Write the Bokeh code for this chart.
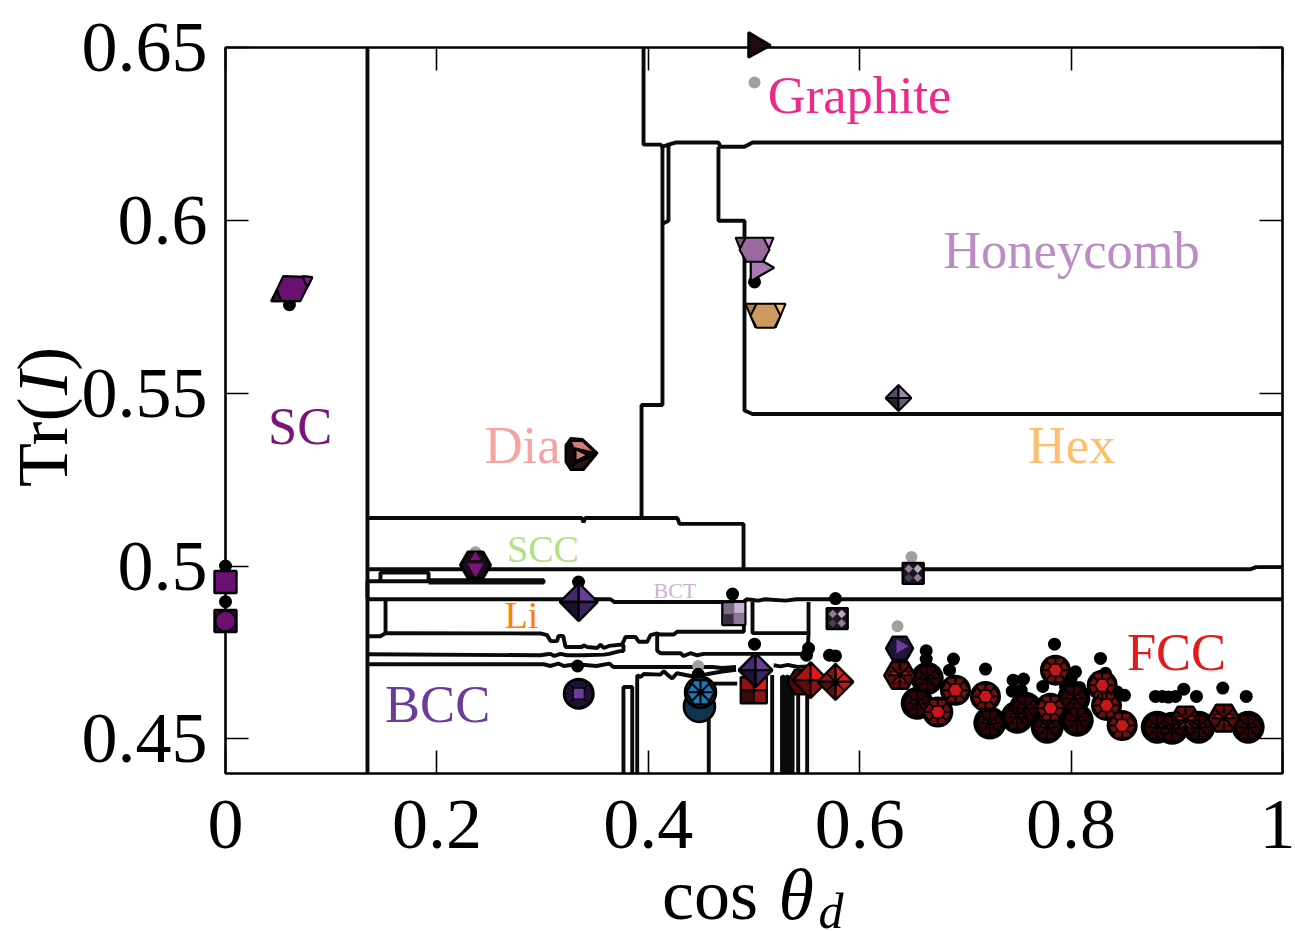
import math
from bokeh.plotting import figure
from bokeh.models import Range1d, FixedTicker, LinearAxis, ColumnDataSource, CustomJSTickFormatter
from bokeh.core.properties import value
from bokeh.embed import file_html
from bokeh.resources import INLINE

SERIF = "Liberation Serif"

x_ticks = [0, 0.2, 0.4, 0.6, 0.8, 1]
x_tick_labels = ["0", "0.2", "0.4", "0.6", "0.8", "1"]
y_ticks = [0.45, 0.5, 0.55, 0.6, 0.65]
y_tick_labels = ["0.45", "0.5", "0.55", "0.6", "0.65"]

# ---- phase boundaries (cos theta_d, Tr(I))
b_left_x = [.1343, .1343]
b_left_y = [.65, .44]
b_top_x = [.3955, .3955, .4115, .4134, .4191, .4257, .4664, .4683, .4910, .4986, 1]
b_top_y = [.65, .6219, .6219, .6213, .6219, .6225, .6225, .6213, .6213, .6225, .6225]
b_stemA_x = [.4134, .4134, .3936, .3936]
b_stemA_y = [.6219, .5466, .5466, .5139]
b_stemB_x = [.4191, .4191, .4134]
b_stemB_y = [.6219, .5999, .5990]
b_hex_x = [.4664, .4664, .4910, .4910, .4986, 1]
b_hex_y = [.6213, .5999, .5999, .5450, .5440, .5440]
b_scc_x = [.1343, .3370, .3387, .3404, .4276, .4295, .4901, .4901]
b_scc_y = [.5139, .5139, .5127, .5139, .5139, .5122, .5122, .4991]
b_h1_x = [.1343, .97, .975, 1]
b_h1_y = [.4991, .4991, .4997, .4997]
b_box_x = [.1466, .1466, .1921, .1921]
b_box_y = [.4956, .4981, .4981, .4956]
b_h2_x = [.1343, .1343, .3009]
b_h2_y = [.4907, .4956, .4956]
b_h2b_x = [.1921, .3009, .3009, .1921]
b_h2b_y = [.4952, .4952, .4959, .4959]
b_h3_x = [.1343, .3642, .3680, .4901, .4930, .5040, .5100, .5300, .5400, .5500, 1]
b_h3_y = [.4904, .4904, .4896, .4896, .4904, .4900, .4904, .4900, .4904, .4904, .4904]
b_li_x = [.1514, .1514]
b_li_y = [.4904, .4806]
b_w1_x = [.1343, .1466, .1514, .2980, .3043, .3075, .3138, .3150, .3195, .3217, .3375, .3387, .3422, .3517,
          .3548, .3579, .3627, .3753, .3784, .3879, .3911, .3989, .4021, .4084, .4115, .4241, .4273, .4904, .4904]
b_w1_y = [.4797, .4797, .4806, .4805, .4800, .4783, .4783, .4798, .4798, .4766, .4766, .4771, .4766, .4763,
          .4773, .4763, .4769, .4773, .4795, .4795, .4781, .4781, .4800, .4805, .4802, .4802, .4810, .4810, .4896]
b_box2_x = [.4986, .4986, .5516, .5516]
b_box2_y = [.4896, .4806, .4806, .4896]
b_box2d_x = [.5516, .5510]
b_box2d_y = [.4806, .4765]
b_w2_x = [.1343, .2980, .3043, .3075, .3110, .3170, .3230, .3390, .3580, .3630, .3730, .3765, .3765]
b_w2_y = [.4745, .4742, .4745, .4746, .4740, .4746, .4742, .4742, .4744, .4746, .4754, .4754, .4773]
b_w3_x = [.4084, .4084, .4115, .4305, .4333, .4399, .4463, .4525, .5503]
b_w3_y = [.4805, .4755, .4748, .4748, .4740, .4748, .4742, .4746, .4746]
b_w4_x = [.1343, .3009, .3075, .3150, .3200, .3320, .3510, .3630, .3670, .4604, .4699, .4830]
b_w4_y = [.4716, .4716, .4711, .4718, .4711, .4716, .4711, .4718, .4708, .4708, .4705, .4708]
b_w5_x = [.5186, .5250, .5320, .5412, .5510]
b_w5_y = [.4713, .4710, .4714, .4708, .4710]
b_u_x = [.3765, .3765, .3848, .3848]
b_u_y = [.44, .4650, .4650, .44]
b_w6_x = [.3895, .3895, .3926, .3958, .4115, .4147, .4180, .4226, .4270, .4400, .4500, .4604, .4700, .4830]
b_w6_y = [.44, .4684, .4679, .4688, .4686, .4696, .4686, .4675, .4690, .4682, .4684, .4690, .4695, .4700]
b_w7_x = [.4604, .4841]
b_w7_y = [.4660, .4660]
b_v1_x = [.4572, .4572]
b_v1_y = [.44, .4650]
b_v2_x = [.5172, .5172]
b_v2_y = [.44, .4685]
b_v3_x = [.5265, .5265, .5285, .5285, .5305, .5305, .5325, .5325, .5345, .5345, .5365, .5365]
b_v3_y = [.44, .4680, .4680, .44, .44, .4680, .4680, .44, .44, .4680, .4680, .44]
b_v4_x = [.5418, .5418]
b_v4_y = [.44, .4665]
b_v5_x = [.5503, .5503]
b_v5_y = [.44, .4690]

bx = [b_left_x, b_top_x, b_stemA_x, b_stemB_x, b_hex_x, b_scc_x, b_h1_x, b_box_x, b_h2_x, b_h2b_x, b_h3_x, b_li_x,
      b_w1_x, b_box2_x, b_box2d_x, b_w2_x, b_w3_x, b_w4_x, b_w5_x, b_u_x, b_w6_x, b_w7_x, b_v1_x, b_v2_x, b_v3_x,
      b_v4_x, b_v5_x]
by = [b_left_y, b_top_y, b_stemA_y, b_stemB_y, b_hex_y, b_scc_y, b_h1_y, b_box_y, b_h2_y, b_h2b_y, b_h3_y, b_li_y,
      b_w1_y, b_box2_y, b_box2d_y, b_w2_y, b_w3_y, b_w4_y, b_w5_y, b_u_y, b_w6_y, b_w7_y, b_v1_y, b_v2_y, b_v3_y,
      b_v4_y, b_v5_y]

# ---- reference dots
black_x = [.0605, 0, 0, .5005, .3340, .3331, .4797, .5771, .5005, .4472, .5516, .5497, .5714, .5771,
           .6629, .6629, .6887, .6850, .7190, .7452, .7443, .7550, .7528, .7843, .8042, .8001, .7732, .7947,
           .8079, .8278, .8325, .8436, .8505, .8798, .8862, .8921, .8988, .9066, .9186, .9435, .9657]
black_y = [.5756, .5000, .4897, .5822, .4954, .4711, .4919, .4906, .4774, .4687, .4762, .4742, .4742, .4740,
           .4755, .4731, .4731, .4699, .4702, .4670, .4638, .4673, .4641, .4774, .4694, .4675, .4652, .4652,
           .4649, .4733, .4690, .4636, .4626, .4623, .4623, .4621, .4623, .4644, .4623, .4647, .4623]
gray_x = [.5005, .2365, .6490, .6358, .4472]
gray_y = [.6399, .5040, .5026, .4826, .4711]

# ---- structures
fcc_wheel_x = [.6379, .9082, .9445]
fcc_wheel_y = [.4684, .4554, .4560]
fcc_penta_x = [.6739, .7190, .7805, .7852, .8294, .8335, .8483, .6906]
fcc_penta_y = [.4578, .4623, .4589, .4699, .4655, .4597, .4539, .4641]
fcc_dark_x = [.6639, .6544, .7231, .7490, .7569, .7774, .8026, .8058, .8815, .8956, .9208, .9675]
fcc_dark_y = [.4675, .4603, .4546, .4563, .4589, .4534, .4618, .4554, .4534, .4531, .4534, .4534]
red_diamond_x = [.5535, .5771]
red_diamond_y = [.4670, .4665]
red_square_x = [.4998]
red_square_y = [.4641]
blue_x = [.4484, .4494]
blue_y = [.4594, .4635]
purple_diamond_x = [.3342, .5014]
purple_diamond_y = [.4896, .4699]
octa_x = [.3342]
octa_y = [.4631]
scc_x = [.2365]
scc_y = [.5003]
bct_x = [.4809]
bct_y = [.4863]
hatch_x = [.5787, .6506]
hatch_y = [.4848, .4979]
purple_hex_x = [.6377]
purple_hex_y = [.4762]
hex_diamond_x = .6367
hex_diamond_y = .5486
tan_x = .5109
tan_y = .5724
honey_x = .5005
honey_y = .5915
honey_tri_x = [.5043]
honey_tri_y = [.5863]
graphite_x = .5043
graphite_y = .6506
dia_x = .3340
dia_y = .5324
sc_x = .0622
sc_y = .5801
sc_square_x = [0.0]
sc_square_y = [.4954]
sc_oct_x = [0.0]
sc_oct_y = [.4841]

# ---- region labels
label_text = ["SC", "Honeycomb", "Dia", "Hex", "SCC", "BCT", "Li", "BCC", "FCC", "Graphite"]
label_x = [.0402, .6790, .2452, .7590, .2664, .4049, .2640, .1510, .8528, .5130]
label_y = [.5404, .5913, .5351, .5351, .5050, .4930, .4858, .4601, .4752, .6363]
label_size = ["52.5px", "52.5px", "52.5px", "52.5px", "38px", "22px", "38px", "52.5px", "52.5px", "52.5px"]
label_color = ["#7b1478", "#bd8cc6", "#f6a3a3", "#fdbf6f", "#b2df8a", "#cab2d6", "#ff7f00", "#6a3d9a", "#e31a1c", "#ec2a8c"]

p = figure(width=1295, height=931, output_backend="svg", toolbar_location=None,
           x_range=Range1d(0, 1), y_range=Range1d(0.44, 0.65),
           min_border_left=225, min_border_right=13, min_border_top=47, min_border_bottom=158)
p.grid.visible = False
p.outline_line_color = "black"
p.outline_line_width = 2.2
p.background_fill_color = "white"

def style_axis(a, ticks, overrides=None):
    a.ticker = FixedTicker(ticks=ticks)
    a.major_tick_in = 23
    a.major_tick_out = 0
    a.minor_tick_line_color = None
    a.major_tick_line_color = "black"
    a.major_tick_line_width = 1.6
    a.axis_line_color = "black"
    a.axis_line_width = 2
    if overrides:
        a.major_label_overrides = overrides
        a.major_label_text_font = SERIF
        a.major_label_text_font_size = "72px"
        a.major_label_text_color = "black"
    else:
        a.formatter = CustomJSTickFormatter(code="return ''")
        a.major_label_standoff = 0

style_axis(p.xaxis[0], x_ticks, dict(zip(x_ticks, x_tick_labels)))
style_axis(p.yaxis[0], y_ticks, dict(zip(y_ticks, y_tick_labels)))
p.xaxis[0].major_label_standoff = 27
p.yaxis[0].major_label_standoff = 18
top = LinearAxis(); style_axis(top, x_ticks); p.add_layout(top, "above")
right = LinearAxis(); style_axis(right, y_ticks); p.add_layout(right, "right")

p.multi_line(bx, by, line_color="#0a0a0a", line_width=3.9)

PX, PY = 1 / 1057, 1 / 3453
def mark(xs, ys, marker, size, fill, line="black", lw=2.2, angle=0.0, dx=0, dy=0):
    X = [v + dx * PX for v in xs]
    Y = [v + dy * PY for v in ys]
    return p.scatter(X, Y, marker=marker, size=size, fill_color=fill, line_color=line, line_width=lw,
                     angle=angle, level="overlay")

def shape(cx, cy, facets, lw=2.0):
    """Facets of a polyhedron icon around a data point; offsets are in screen pixels."""
    xs = [[cx + a * PX for a, b in f] for _, f in facets]
    ys = [[cy + b * PY for a, b in f] for _, f in facets]
    cols = [c for c, _ in facets]
    p.patches(xs, ys, fill_color=cols, line_color="black", line_width=lw, level="overlay")

def diamond(cx, cy, r, cols, lw=2.2):
    shape(cx, cy, [(cols[0], [(0, 0), (-r, 0), (0, r)]), (cols[1], [(0, 0), (r, 0), (0, r)]),
                   (cols[2], [(0, 0), (-r, 0), (0, -r)]), (cols[3], [(0, 0), (r, 0), (0, -r)])], lw)

# dots
mark(gray_x, gray_y, "circle", 12, "#a0a0a0", line=None)
mark(black_x, black_y, "circle", 13, "black", line=None)

# FCC family
mark(fcc_dark_x, fcc_dark_y, "circle", 33, "black", line=None)
mark(fcc_penta_x, fcc_penta_y, "circle", 31, "black", line=None)
mark(fcc_wheel_x, fcc_wheel_y, "hex", 31, "#5a0c0e", lw=2.5)
mark(fcc_dark_x, fcc_dark_y, "hex", 27, "#300406", lw=1.5)
mark(fcc_dark_x, fcc_dark_y, "star", 15, "#b01417", line="black", lw=1)
mark(fcc_dark_x, fcc_dark_y, "asterisk", 22, None, lw=1.8)
mark(fcc_penta_x, fcc_penta_y, "hex", 28, "#720d10", lw=1.5)
mark(fcc_penta_x, fcc_penta_y, "asterisk", 27, None, lw=2)
mark(fcc_penta_x, fcc_penta_y, "hex", 14, "#c8161a", lw=1.5)
mark(fcc_wheel_x, fcc_wheel_y, "star", 22, "#c8161a", line="black", lw=1)
mark(fcc_wheel_x, fcc_wheel_y, "asterisk", 24, None, lw=2)

# red diamonds near 0.55-0.58
mark(red_diamond_x[:1], red_diamond_y[:1], "hex", 28, "#4a0a0c", dx=-9, dy=-2)
diamond(red_diamond_x[0], red_diamond_y[0], 18, ["#a81416", "#e01a1c", "#5a0c0e", "#8a1012"], 2.2)
diamond(red_diamond_x[1], red_diamond_y[1], 18, ["#8a1012", "#e01a1c", "#5a0c0e", "#c21618"], 2.2)
mark(red_diamond_x[1:], red_diamond_y[1:], "asterisk", 22, None, lw=2)

# red square with purple diamond above it
mark(red_square_x, red_square_y, "square", 26, "#8c1214", lw=2.4)
mark(red_square_x, red_square_y, "square", 12, "#e31a1c", line=None, dx=6, dy=6)
mark(red_square_x, red_square_y, "square", 12, "#3a0a0b", line=None, dx=-6, dy=-6)
mark(red_square_x, red_square_y, "cross", 26, None, lw=2)

# blue
mark(blue_x, blue_y, "circle", 31, "#10344e", lw=2.6)
mark(blue_x[1:], blue_y[1:], "hex", 28, "#1f78b4", lw=2.2)
mark(blue_x[1:], blue_y[1:], "asterisk", 24, None, lw=2)

# purple diamonds
PURP = ["#46296e", "#6a3d9a", "#1e1030", "#3a2560"]
diamond(purple_diamond_x[0], purple_diamond_y[0], 19, PURP, 2.4)
diamond(purple_diamond_x[1], purple_diamond_y[1], 17, PURP, 2.4)

# octahedral purple
mark(octa_x, octa_y, "circle", 29, "#1e1232", lw=3)
mark(octa_x, octa_y, "x", 22, None, lw=1.5)
mark(octa_x, octa_y, "square", 11, "#6a3d9a", lw=1.2)

# SCC hex
mark(scc_x, scc_y, "hex", 30, "#1a0a1c", lw=3)
mark(scc_x, scc_y, "inverted_triangle", 16, "#7b1478", line=None, dy=-3)
mark(scc_x, scc_y, "triangle", 10, "#7b1478", line=None, dy=8)

# BCT
mark(bct_x, bct_y, "square", 23, "#7d6a86", lw=2.4)
mark(bct_x, bct_y, "square", 10, "#cbb3d8", line=None, dx=5.5, dy=5.5)
mark(bct_x, bct_y, "square", 10, "#3b2c40", line=None, dx=-5.5, dy=-5.5)
mark(bct_x, bct_y, "square", 10, "#8d7a92", line=None, dx=5.5, dy=-5.5)

# hatch
Q = math.pi / 4
mark(hatch_x, hatch_y, "square", 21, "#1c151e", lw=2.4)
mark(hatch_x, hatch_y, "square", 6, "#b9a8c4", line=None, angle=Q, dx=4.5, dy=4.5)
mark(hatch_x, hatch_y, "square", 6, "#8f7e98", line=None, angle=Q, dx=-4.5, dy=4.5)
mark(hatch_x, hatch_y, "square", 6, "#8f7e98", line=None, angle=Q, dx=4.5, dy=-4.5)
mark(hatch_x, hatch_y, "square", 6, "#4a3d52", line=None, angle=Q, dx=-4.5, dy=-4.5)

# purple hex / small diamond
mark(purple_hex_x, purple_hex_y, "hex", 27, "#1f1536", lw=2.5)
mark(purple_hex_x, purple_hex_y, "triangle", 14, "#6a3d9a", line=None, angle=-math.pi / 2, dx=1, dy=2)
diamond(hex_diamond_x, hex_diamond_y, 13, ["#5a4a66", "#9a88ac", "#2c2034", "#6a5a76"], 2.0)

# honeycomb / tan
def cup(cx, cy, hw, hb, cols):
    shape(cx, cy, [(cols[0], [(-hw, 12), (-9, 12), (-hb - 1, -12)]),
                   (cols[1], [(hw, 12), (9, 12), (hb + 1, -12)]),
                   (cols[2], [(-9, 12), (9, 12), (15, 0), (hb, -12), (-hb, -12), (-15, 0)])], 2.0)

mark(honey_tri_x, honey_tri_y, "triangle", 27, "#a878b4", lw=2.2, angle=-math.pi / 2)
cup(honey_x, honey_y, 19, 8, ["#7a5a80", "#c990d0", "#9a6a9e"])
cup(tan_x, tan_y, 20, 9, ["#a8814e", "#f6bd6d", "#cb9a5c"])

# graphite
shape(graphite_x, graphite_y, [("#1f0a16", [(-10, 13), (12, 0), (-10, -12)])], 2.6)
shape(graphite_x, graphite_y, [("#c8217e", [(-8, 10), (9, 1), (-4, 2)])], 0.5)

# diamond lattice
shape(dia_x, dia_y, [("#120808", [(-8, 16), (4, 15), (19, 1), (5, -16), (-8, -16), (-13, -8), (-13, 9)]),
                     ("#cf7b7b", [(-8, 13), (4, 13), (17, 1), (-5, 6)]),
                     ("#2c1616", [(-3, -9), (17, -1), (4, -15), (-8, -15)]),
                     ("#cf7b7b", [(-3, 5), (-3, -7), (9, -1)])], 2.0)

# SC
shape(sc_x, sc_y, [("#6a1070", [(-8, 13), (21, 12), (9, -12), (-20, -12)]),
                   ("#8b1a90", [(11, 13), (21, 12), (16, 2)]),
                   ("#3a0a3c", [(-20, -12), (-10, -12), (-14, -1)])], 2.2)
mark(sc_square_x, sc_square_y, "square", 22, "#6a1070", lw=2.4)
mark(sc_oct_x, sc_oct_y, "square", 22, "#3a0a3c", lw=2.4)
mark(sc_oct_x, sc_oct_y, "circle", 20, "#6a1070", lw=1.5)

src = ColumnDataSource(dict(x=label_x, y=label_y, t=label_text, s=label_size, c=label_color))
p.text("x", "y", text="t", source=src, text_font=value(SERIF), text_font_size="s", text_color="c",
       text_align="left", text_baseline="alphabetic", level="overlay")

# axis titles (pieces, mixed upright / italic)
def lab(x, y, t, size, style="normal", angle=0.0):
    p.text([x], [y], text=[t], text_font=value(SERIF), text_font_size=value(size), text_font_style=style,
           text_color="black", angle=angle, text_align="left", text_baseline="alphabetic", level="overlay")

lab(.4130, .4048, "cos", "72px")
lab(.5232, .4048, "θ", "72px", "italic")
lab(.5610, .4002, "d", "50px", "italic")
lab(-.1722, .5229, "Tr(", "72px", angle=math.pi / 2)
lab(-.1722, .5495, "I", "72px", "italic", angle=math.pi / 2)
lab(-.1722, .5565, ")", "72px", angle=math.pi / 2)

open("out.html", "w").write(file_html(p, INLINE))
